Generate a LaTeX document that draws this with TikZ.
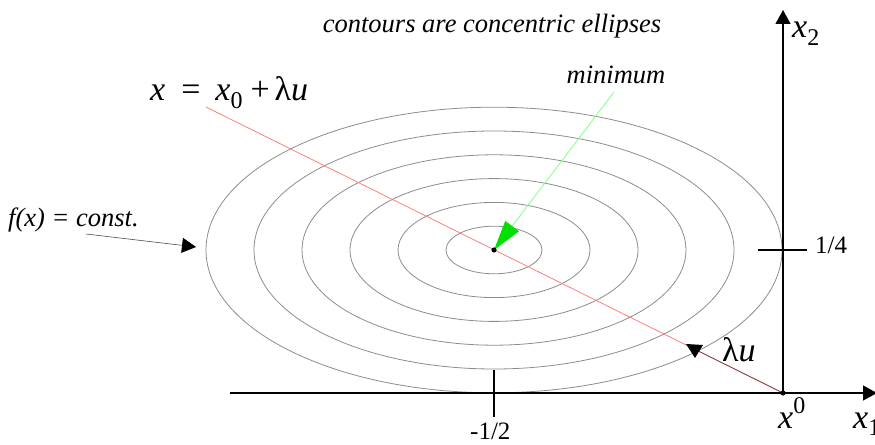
\documentclass[tikz,border=0pt]{standalone}
\usepackage{fontspec}
\setmainfont{Liberation Serif}[ItalicFont=Liberation Serif Italic]
\usetikzlibrary{arrows.meta}
\definecolor{contourgray}{HTML}{8C8C8C}
\definecolor{pinkred}{HTML}{FF7F7F}
\definecolor{darkred}{HTML}{8E3A3A}
\definecolor{lightgreen}{HTML}{80FF80}
\definecolor{brightgreen}{HTML}{00E000}
\newcommand{\subsc}[1]{\raisebox{-0.22em}{\fontsize{24bp}{26bp}\selectfont #1}}
\newcommand{\supsc}[1]{\raisebox{0.42em}{\fontsize{24bp}{26bp}\selectfont #1}}
\begin{document}
\begin{tikzpicture}[x=1bp,y=-1bp,
  contour/.style={draw=contourgray,line width=0.8bp},
  axisline/.style={draw=black,line width=1.3bp},
  tick/.style={draw=black,line width=1.2bp},
  headtri/.style={-{Triangle[length=14bp,width=15bp]}},
  lbl/.style={inner sep=0,font=\fontsize{26.5bp}{30bp}\selectfont\itshape},
  num/.style={inner sep=0,font=\fontsize{25bp}{28bp}\selectfont},
  mth/.style={inner sep=0,font=\fontsize{34bp}{38bp}\selectfont},
  dot/.style={fill=black}]
\useasboundingbox (0,0) rectangle (875,445);
\clip (0,0) rectangle (875,445);
% key points
\coordinate (O) at (783,393);
\coordinate (C) at (494,250);
\coordinate (L) at (206,107);
\coordinate (T) at (695,349.4);
\coordinate (XS) at (230,393);
\coordinate (XE) at (877,393);
\coordinate (YE) at (783,10);
\coordinate (H1) at (758,250);
\coordinate (H2) at (807,250);
\coordinate (V1) at (494,370);
\coordinate (V2) at (494,417);
\coordinate (FS) at (86,234);
\coordinate (FE) at (196,247);
\coordinate (GS) at (614,92);
% contours
\foreach \k in {1,...,6}
  \draw[contour] (C) ellipse [x radius={\k*48bp}, y radius={\k*23.8bp}];
% line x = x0 + lambda u
\draw[pinkred,line width=0.8bp] (L) -- (T);
\draw[darkred,line width=0.9bp] (T) -- (O);
\fill[black] (686,344) -- (703,345) -- (695,358) -- cycle;
% axes
\draw[axisline,headtri] (XS) -- (XE);
\draw[axisline,headtri] (O) -- (YE);
\draw[tick] (H1) -- (H2);
\draw[tick] (V1) -- (V2);
% arrows
\draw[line width=0.6bp,black!70,-{Triangle[length=14bp,width=15bp,color=black,fill=black]}] (FS) -- (FE);
\draw[lightgreen,line width=0.8bp,-{Triangle[length=30bp,width=17bp,color=brightgreen,fill=brightgreen]}] (GS) -- (C);
% dots
\fill[dot] (C) circle (2.6bp);
\fill[dot] (O) circle (2.6bp);
% labels
\node[lbl,anchor=base] (title) at (492,33) {contours are concentric ellipses};
\node[lbl,anchor=base] (minlbl) at (616,84) {minimum};
\node[lbl,anchor=base west] (flbl) at (8,227) {f(x) = const.};
\node[mth,anchor=base west] (eq) at (150,101) {\textit{x}\hspace{16bp}=\hspace{15bp}\textit{x}\subsc{0}\hspace{8bp}+\hspace{5bp}λ\textit{u}};
\node[mth,anchor=base west] (lu) at (722,362) {λ\textit{u}};
\node[mth,anchor=base west] (x2) at (792,38) {\textit{x}\subsc{2}};
\node[mth,anchor=base west] (x0) at (778,428) {\textit{x}\supsc{0}};
\node[mth,anchor=base west] (x1) at (853,428) {\textit{x}\subsc{1}};
\node[num,anchor=base west] (q) at (815,254) {1/4};
\node[num,anchor=base west] (h) at (470,439) {-1/2};
\end{tikzpicture}
\end{document}
